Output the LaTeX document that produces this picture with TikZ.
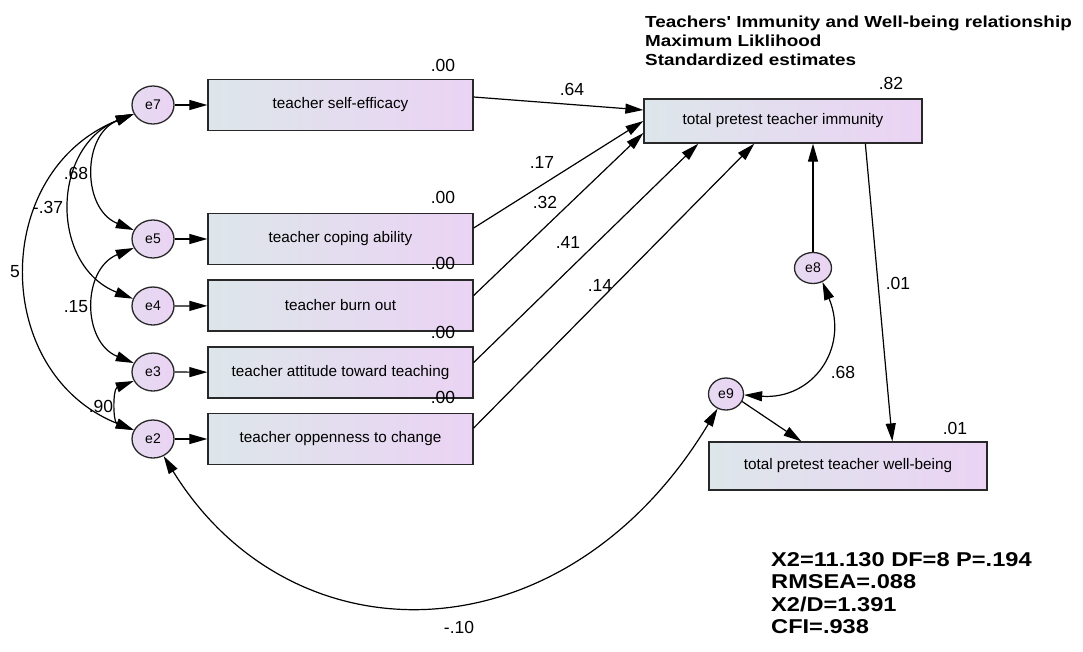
\documentclass[tikz,border=0pt]{standalone}
\usepackage{fontspec}
\setmainfont{Liberation Sans}
\newfontfamily\headfont[FakeStretch=1.18]{Liberation Sans}
\usetikzlibrary{arrows.meta,shapes.geometric}
\definecolor{boxleft}{RGB}{221,230,234}
\definecolor{boxright}{RGB}{235,211,244}
\definecolor{rim}{RGB}{40,40,40}

\begin{document}
\begin{tikzpicture}[x=1pt,y=-1pt,
	obs/.style={draw=rim,line width=1.3pt,left color=boxleft,right color=boxright,
		minimum width=265pt,minimum height=51pt,inner sep=0pt,font=\fontsize{15.3}{18}\selectfont},
	err/.style={ellipse,draw=rim,line width=1.3pt,left color=boxleft!40!boxright,right color=boxright,
		minimum width=42pt,minimum height=38pt,inner sep=0pt,font=\fontsize{14}{16}\selectfont},
	num/.style={inner sep=0pt,font=\fontsize{17.5}{20}\selectfont},
	head/.style={anchor=base west,inner sep=0pt,font=\headfont\bfseries\fontsize{16}{19}\selectfont},
	fit/.style={anchor=base west,inner sep=0pt,font=\headfont\bfseries\fontsize{20}{22}\selectfont},
	path/.style={line width=1.2pt,-{Triangle[length=18pt,width=10pt]}},
	cov/.style={line width=1.2pt,{Triangle[length=18pt,width=10pt]}-{Triangle[length=18pt,width=10pt]}}]
	\useasboundingbox (0,0) rectangle (1083,651);

	%observed variables
	\node[obs] (sfe) at (340.5,105)   {teacher self-efficacy};
	\node[obs] (cop) at (340.5,239)   {teacher coping ability};
	\node[obs] (bur) at (340.5,305.5) {teacher burn out};
	\node[obs] (att) at (340.5,372.5) {teacher attitude toward teaching};
	\node[obs] (opp) at (340.5,439)   {teacher oppenness to change};
	\node[obs,minimum width=278pt,minimum height=44pt] (imm) at (783,121) {total pretest teacher immunity};
	\node[obs,minimum width=278pt,minimum height=48pt] (wel) at (848,466) {total pretest teacher well-being};

	%errors
	\node[err] (e7) at (153,105) {e7};
	\node[err] (e5) at (153,239) {e5};
	\node[err] (e4) at (153,306) {e4};
	\node[err] (e3) at (153,372) {e3};
	\node[err] (e2) at (153,439) {e2};
	\node[err,minimum width=37pt,minimum height=31pt] (e8) at (813,268) {e8};
	\node[err,minimum width=35pt,minimum height=32pt] (e9) at (726,394) {e9};

	%error paths
	\draw[path] (e7) -- (sfe);
	\draw[path] (e5) -- (cop);
	\draw[path] (e4) -- (bur);
	\draw[path] (e3) -- (att);
	\draw[path] (e2) -- (opp);
	\draw[path] (e8.north) -- (e8.north |- imm.south);
	\draw[path] (e9.-25) -- ([xshift=93pt]wel.north west);

	%regressions
	\draw[path] ([yshift=8pt]sfe.east)  -- ([yshift=11pt]imm.west);
	\draw[path] ([yshift=11pt]cop.east) -- (imm.west);
	\draw[path] ([yshift=10pt]bur.east) -- ([yshift=-12pt]imm.west);
	\draw[path] ([yshift=10pt]att.east) -- ([xshift=55pt]imm.south west);
	\draw[path] ([yshift=11pt]opp.east) -- ([xshift=111pt]imm.south west);
	\draw[path] ([xshift=222pt]imm.south west) -- ([xshift=184pt]wel.north west);

	%covariances
	\draw[cov] (e7.205) .. controls +(-52,21) and +(-52,-21) .. (e5.155);
	\draw[cov] (e7.205) .. controls +(-83,33) and +(-83,-33) .. (e4.160);
	\draw[cov] (e7.205) .. controls +(-143,57) and +(-143,-57) .. (e2.155);
	\draw[cov] (e5.205) .. controls +(-52,21) and +(-52,-21) .. (e3.155);
	\draw[cov] (e3.205) .. controls +(-21,8) and +(-21,-8) .. (e2.155);
	\draw[cov] (e2.-58) .. controls +(130,210) and +(-151,251) .. (e9.-120);
	\draw[cov] (e8.-56) .. controls +(27,67) and +(68,5) .. (e9.-3);

	%squared multiple correlations
	\node[num] (lsfe) at (443,65)  {.00};
	\node[num] (lcop) at (443,197) {.00};
	\node[num] (lbur) at (443,263) {.00};
	\node[num] (latt) at (443,332) {.00};
	\node[num] (lopp) at (443,397) {.00};
	\node[num] (limm) at (891,83)  {.82};
	\node[num] (lwel) at (955,428) {.01};

	%estimates
	\node[num] (p1) at (572,89)  {.64};
	\node[num] (p2) at (542,162) {.17};
	\node[num] (p3) at (545,202) {.32};
	\node[num] (p4) at (568,242) {.41};
	\node[num] (p5) at (600,285) {.14};
	\node[num] (p6) at (898,283) {.01};
	\node[num] (c1) at (76,173)  {.68};
	\node[num] (c2) at (48,207)  {-.37};
	\node[num] (c3) at (15,272)  {5};
	\node[num] (c4) at (76,307)  {.15};
	\node[num] (c5) at (101,406) {.90};
	\node[num] (c6) at (459,627) {-.10};
	\node[num] (c7) at (843,372) {.68};

	%title and fit
	\node[head] (t1) at (645,27) {Teachers' Immunity and Well-being relationship};
	\node[head] (t2) at (645,46) {Maximum Liklihood};
	\node[head] (t3) at (645,65) {Standardized estimates};
	\node[fit] (f1) at (771,566) {X2=11.130 DF=8 P=.194};
	\node[fit] (f2) at (771,588) {RMSEA=.088};
	\node[fit] (f3) at (771,611) {X2/D=1.391};
	\node[fit] (f4) at (771,633) {CFI=.938};
\end{tikzpicture}
\end{document}
